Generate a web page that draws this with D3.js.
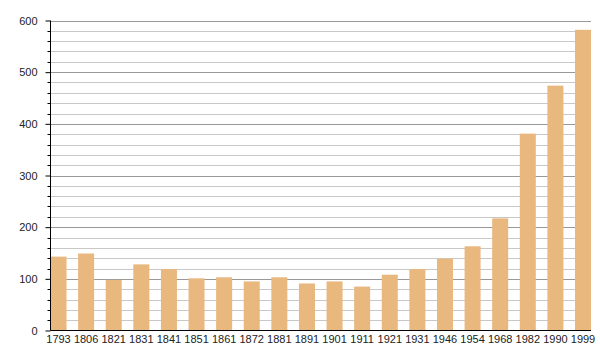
<!DOCTYPE html>
<html><head><meta charset="utf-8">
<script src="https://cdn.jsdelivr.net/npm/d3@7"></script>
<style>body{margin:0;background:#fff}svg text{font-family:"Liberation Sans",Arial,sans-serif}</style>
</head><body><svg id="c" width="600" height="360"></svg>
<script>
const years = ["1793","1806","1821","1831","1841","1851","1861","1872","1881","1891","1901","1911","1921","1931","1946","1954","1968","1982","1990","1999"];
const population = [143,149,98,128,119,101,103,95,103,91,95,85,108,119,139,163,217,381,474,582];
const yTicks = [0,100,200,300,400,500,600];

(function(){
const svg = d3.select("#c");
const left = 50.5, right = 591, topY = 20.5, bottom = 330.5;
const x = d3.scaleBand().domain(years).range([left, right]).paddingInner(0.42).paddingOuter(0);
const y = d3.scaleLinear().domain([0,600]).range([bottom, topY]);

const minor = d3.range(0, 601, 20).filter(v => v % 100 !== 0);
svg.append("g").selectAll("line").data(minor).join("line")
  .attr("x1", left).attr("x2", right)
  .attr("y1", d => Math.round(y(d)) + 0.5).attr("y2", d => Math.round(y(d)) + 0.5)
  .attr("stroke", "#c8c8c8").attr("stroke-width", 1);
svg.append("g").selectAll("line").data(yTicks.filter(v => v > 0)).join("line")
  .attr("x1", left).attr("x2", right)
  .attr("y1", d => Math.round(y(d)) + 0.5).attr("y2", d => Math.round(y(d)) + 0.5)
  .attr("stroke", "#999").attr("stroke-width", 1);

svg.append("g").selectAll("rect").data(years).join("rect")
  .attr("x", d => x(d)).attr("width", x.bandwidth())
  .attr("y", (d,i) => y(population[i])).attr("height", (d,i) => y(0) - y(population[i]))
  .attr("fill", "#e8b87f");

const ya = svg.append("g").attr("transform", `translate(${left},0)`)
  .call(d3.axisLeft(y).tickValues(yTicks).tickSize(5).tickPadding(8).tickFormat(d3.format("d")));
ya.select(".domain").remove();
ya.selectAll("text").attr("font-size", 11).attr("fill", "#222");
ya.selectAll(".tick line").attr("stroke", "#000");
svg.append("g").selectAll("line").data(minor).join("line")
  .attr("x1", left - 3).attr("x2", left)
  .attr("y1", d => Math.round(y(d)) + 0.5).attr("y2", d => Math.round(y(d)) + 0.5)
  .attr("stroke", "#000");
svg.append("line").attr("x1", left).attr("x2", left).attr("y1", topY).attr("y2", bottom).attr("stroke", "#000");

const xa = svg.append("g").attr("transform", `translate(0,${bottom})`)
  .call(d3.axisBottom(x).tickSize(0).tickPadding(5));
xa.select(".domain").remove();
xa.selectAll("text").attr("font-size", 11).attr("fill", "#222");
svg.append("line").attr("x1", left).attr("x2", right).attr("y1", bottom).attr("y2", bottom).attr("stroke", "#000");
})();
</script></body></html>
